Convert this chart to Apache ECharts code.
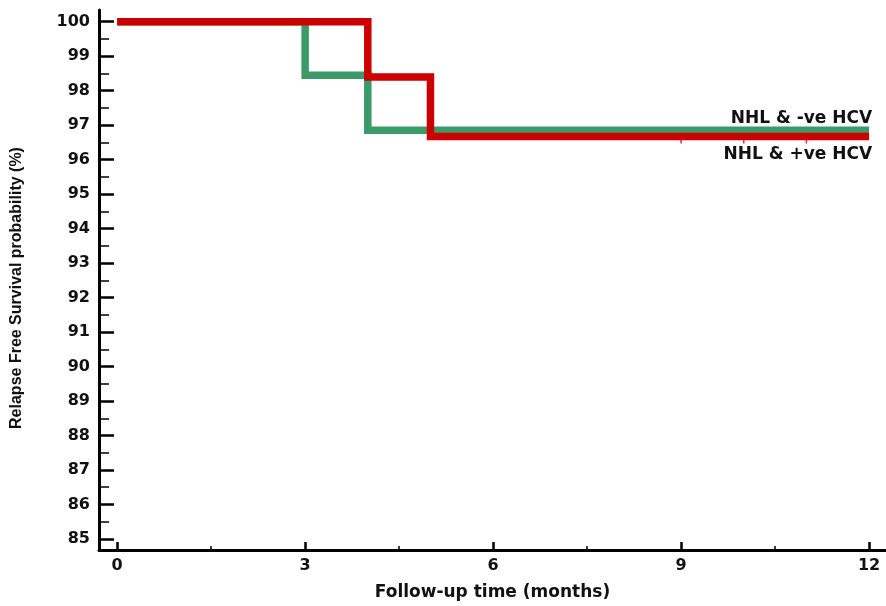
<!DOCTYPE html>
<html>
<head>
<meta charset="utf-8">
<script src="https://cdn.jsdelivr.net/npm/echarts@6/dist/echarts.min.js"></script>
<style>html,body{margin:0;padding:0;background:#fff}#c{width:886px;height:606px}</style>
</head>
<body>
<div id="c"></div>
<script>
// Data
var xMajorTicks = [0, 3, 6, 9, 12];
var xMinorTicks = [1.5, 4.5, 7.5, 10.5];
var yMajorTicks = [85, 86, 87, 88, 89, 90, 91, 92, 93, 94, 95, 96, 97, 98, 99, 100];
var yMinorTicks = [85.5, 86.5, 87.5, 88.5, 89.5, 90.5, 91.5, 92.5, 93.5, 94.5, 95.5, 96.5, 97.5, 98.5, 99.5];
var seriesNames = ['NHL & -ve HCV', 'NHL & +ve HCV'];
var negTime = [0, 3, 4, 12];
var negSurv = [100, 98.45, 96.85, 96.85];
var posTime = [0, 4, 5, 12];
var posSurv = [100, 98.4, 96.67, 96.67];
var censorTime = [9, 10, 11];
var censorSurv = [96.67, 96.67, 96.67];

function pairs(xs, ys) { return xs.map(function (x, i) { return [x, ys[i]]; }); }

var FONT = 'DejaVu Sans';
var chart = echarts.init(document.getElementById('c'), null, { renderer: 'canvas' });
var xBase = { type: 'value', min: -0.29, max: 12.27, splitLine: { show: false } };
var yBase = { type: 'value', min: 84.68, max: 100.34, splitLine: { show: false } };

chart.setOption({
  animation: false,
  backgroundColor: '#fff',
  grid: { left: 99, right: 0, top: 10, bottom: 51, containLabel: false },
  xAxis: [
    Object.assign({}, xBase, {
      name: 'Follow-up time (months)', nameLocation: 'middle', nameGap: 34,
      nameTextStyle: { fontFamily: FONT, fontWeight: 'bold', fontSize: 17, color: '#111' },
      axisLine: { onZero: false, lineStyle: { color: '#000', width: 3 } },
      axisTick: { inside: true, length: 8, customValues: xMajorTicks, lineStyle: { color: '#000', width: 2.5 } },
      axisLabel: { customValues: xMajorTicks, margin: 8, fontFamily: FONT, fontWeight: 'bold', fontSize: 16, color: '#111' }
    }),
    Object.assign({}, xBase, {
      position: 'bottom',
      axisLine: { show: false, onZero: false },
      axisTick: { inside: true, length: 4, customValues: xMinorTicks, lineStyle: { color: '#000', width: 1.5 } },
      axisLabel: { show: false }
    })
  ],
  yAxis: [
    Object.assign({}, yBase, {
      name: 'Relapse Free Survival probability (%)', nameLocation: 'middle', nameGap: 74, nameRotate: 90,
      nameTextStyle: { fontFamily: 'Liberation Sans', fontWeight: 'bold', fontSize: 16, color: '#111', padding: [0, 16, 0, 0] },
      axisLine: { onZero: false, lineStyle: { color: '#000', width: 3 } },
      axisTick: { inside: true, length: 15, customValues: yMajorTicks, lineStyle: { color: '#000', width: 2.5 } },
      axisLabel: { customValues: yMajorTicks, margin: 9, fontFamily: FONT, fontWeight: 'bold', fontSize: 16, color: '#111' }
    }),
    Object.assign({}, yBase, {
      position: 'left',
      axisLine: { show: false, onZero: false },
      axisTick: { inside: true, length: 10, customValues: yMinorTicks, lineStyle: { color: '#000', width: 1.5 } },
      axisLabel: { show: false }
    })
  ],
  series: [
    {
      name: seriesNames[0], type: 'line', step: 'end', data: pairs(negTime, negSurv),
      showSymbol: false, symbol: 'none', z: 2,
      lineStyle: { color: '#3a9a68', width: 7.5, cap: 'butt', join: 'miter' },
      endLabel: { show: true, formatter: '{a}', align: 'right', verticalAlign: 'bottom', distance: 0, offset: [3, -3],
        fontFamily: FONT, fontWeight: 'bold', fontSize: 17, color: '#111' }
    },
    {
      name: seriesNames[1], type: 'line', step: 'end', data: pairs(posTime, posSurv),
      showSymbol: false, symbol: 'none', z: 3,
      lineStyle: { color: '#cc0000', width: 7.5, cap: 'butt', join: 'miter' },
      endLabel: { show: true, formatter: '{a}', align: 'right', verticalAlign: 'top', distance: 0, offset: [3, 10],
        fontFamily: FONT, fontWeight: 'bold', fontSize: 17, color: '#111' }
    },
    {
      name: 'censored', type: 'scatter', data: pairs(censorTime, censorSurv), z: 4,
      symbol: 'rect', symbolSize: [1.5, 4], symbolOffset: [0, 5],
      itemStyle: { color: '#cc0000' }, silent: true
    }
  ]
});
</script>
</body>
</html>
